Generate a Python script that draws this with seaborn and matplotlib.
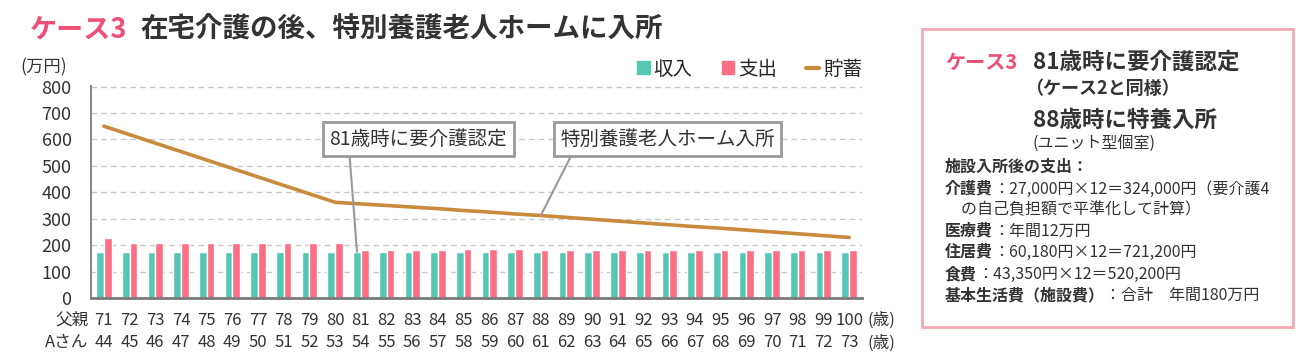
import numpy as np
import pandas as pd
import seaborn as sns
import matplotlib.pyplot as plt
from matplotlib.patches import Rectangle, Patch
from matplotlib.lines import Line2D

# ages of the father and of "Aさん"
father_age = [71, 72, 73, 74, 75, 76, 77, 78, 79, 80, 81, 82, 83, 84, 85,
              86, 87, 88, 89, 90, 91, 92, 93, 94, 95, 96, 97, 98, 99, 100]
a_age = [44, 45, 46, 47, 48, 49, 50, 51, 52, 53, 54, 55, 56, 57, 58,
         59, 60, 61, 62, 63, 64, 65, 66, 67, 68, 69, 70, 71, 72, 73]

# 万円
income = [175, 175, 175, 175, 175, 175, 175, 175, 175, 175, 175, 175, 175, 175, 175,
          175, 175, 175, 175, 175, 175, 175, 175, 175, 175, 175, 175, 175, 175, 175]
expense = [227, 207, 207, 207, 207, 207, 207, 207, 207, 207, 182, 182, 182, 182, 184,
           185, 186, 181, 181, 181, 181, 181, 181, 181, 181, 181, 181, 181, 181, 181]
savings = [650, 618, 586, 554, 522, 490, 458, 426, 394, 362, 356, 350, 344, 338, 331,
           325, 318, 312, 305, 298, 291, 284, 277, 270, 264, 257, 250, 243, 236, 229]

series_names = ["収入", "支出", "貯蓄"]

teal = "#55C8B4"
pink = "#FB6F86"
brown = "#C98A3D"
title_pink = "#EE4F74"
dark = "#333333"
W, H = 1314, 362

sns.set_theme(style="white")
plt.rcParams['font.family'] = ['Noto Sans CJK JP', 'DejaVu Sans']

fig = plt.figure(figsize=(W / 100, H / 100), dpi=100)
ax = fig.add_axes([91 / W, 1 - 298 / H, 771 / W, 212 / H])

labels = [str(a) for a in father_age]
df = pd.DataFrame({"age": labels, "収入": income, "支出": expense})
long = df.melt(id_vars="age", value_vars=["収入", "支出"], var_name="kind", value_name="val")

sns.barplot(data=long, x="age", y="val", hue="kind", order=labels,
            palette=[teal, pink], width=0.6, gap=0, saturation=1,
            legend=False, ax=ax)
sns.lineplot(x=np.arange(len(savings)), y=savings, color=brown, lw=2.6, ax=ax)

ax.set_xlim(-0.5, len(labels) - 0.5)
ax.set_ylim(0, 802)
ax.set_yticks(range(0, 900, 100))
ax.set_xticks(range(len(labels)))
ax.set_xticklabels([f"{f}\n{a}" for f, a in zip(father_age, a_age)],
                   fontsize=12, linespacing=1.42, color=dark)
ax.tick_params(axis="y", length=0, pad=14, labelsize=13, labelcolor=dark)
ax.tick_params(axis="x", length=0, pad=10)
ax.set_xlabel("")
ax.set_ylabel("")
ax.yaxis.grid(True, ls=(0, (4, 3)), color="#c8c8c8", lw=1)
ax.set_axisbelow(True)
for s in ["top", "right"]:
    ax.spines[s].set_visible(False)
ax.spines["left"].set_color("#8a8a8a")
ax.spines["left"].set_linewidth(1.5)
ax.spines["bottom"].set_color("#7a7a7a")
ax.spines["bottom"].set_linewidth(2)

# row labels and units for the two age rows (same offset as the tick labels)
row_y = -14 / 212
ax.text(-0.6, row_y, "父親\nAさん", transform=ax.get_xaxis_transform(), ha="right",
        va="top", fontsize=12, linespacing=1.42, color=dark)
ax.text(len(labels) - 0.3, row_y, "(歳)\n(歳)", transform=ax.get_xaxis_transform(),
        ha="left", va="top", fontsize=12, linespacing=1.42, color=dark)
fig.text(20 / W, 1 - 67 / H, "(万円)", fontsize=12.5, color=dark, va="center")

handles = [Patch(color=teal), Patch(color=pink), Line2D([], [], color=brown, lw=3)]
ax.legend(handles, series_names, ncol=3, loc="lower right", bbox_to_anchor=(1.0, 1.03),
          frameon=False, fontsize=14, handlelength=0.65, handleheight=0.65,
          handletextpad=0.2, columnspacing=1.5, borderaxespad=0, borderpad=0)

# callouts
box = dict(boxstyle="square,pad=0.33", fc="white", ec="#9a9a9a", lw=2)
ax.annotate("81歳時に要介護認定", xy=(10 - 0.15, income[10]), xytext=(12.24, 600),
            ha="center", va="center", fontsize=14, color=dark, bbox=box,
            arrowprops=dict(arrowstyle="-", color="#999999", lw=1.5, relpos=(0.11, 0),
                            shrinkA=0, shrinkB=0))
ax.annotate("特別養護老人ホーム入所", xy=(17, savings[17]), xytext=(21.93, 600),
            ha="center", va="center", fontsize=14, color=dark, bbox=box,
            arrowprops=dict(arrowstyle="-", color="#999999", lw=1.5, relpos=(0.065, 0),
                            shrinkA=0, shrinkB=0))

# title
fig.text(30 / W, 1 - 30 / H, "ケース3", fontsize=19.5, fontweight="bold", color=title_pink, va="center")
fig.text(140 / W, 1 - 30 / H, "在宅介護の後、特別養護老人ホームに入所", fontsize=19.8,
         fontweight="bold", color=dark, va="center")

# right info panel
fig.add_artist(Rectangle((922 / W, 1 - 327 / H), 371 / W, 298 / H, transform=fig.transFigure,
                         fill=False, ec="#F3A9B3", lw=2))
fig.text(945 / W, 1 - 62 / H, "ケース3", fontsize=14.5, fontweight="bold", color=title_pink, va="center")
fig.text(1033 / W, 1 - 62 / H, "81歳時に要介護認定", fontsize=16.2, fontweight="bold", color=dark, va="center")
fig.text(1025 / W, 1 - 88 / H, "（ケース2と同様）", fontsize=13, fontweight="bold", color=dark, va="center")
fig.text(1033 / W, 1 - 120 / H, "88歳時に特養入所", fontsize=16.2, fontweight="bold", color=dark, va="center")
fig.text(1033 / W, 1 - 144 / H, "(ユニット型個室)", fontsize=11.5, color=dark, va="center")

renderer = fig.canvas.get_renderer()


def mixed(x, y, parts, size=11.5):
    for s, w in parts:
        t = fig.text(x, y, s, fontsize=size, fontweight=w, color=dark, va="center")
        x = t.get_window_extent(renderer=renderer).x1 / fig.bbox.width


mixed(945 / W, 1 - 167 / H, [("施設入所後の支出：", "bold")])
mixed(945 / W, 1 - 189 / H, [("介護費", "bold"), ("：27,000円×12＝324,000円（要介護4", "normal")])
mixed(945 / W, 1 - 210 / H, [("　の自己負担額で平準化して計算）", "normal")])
mixed(945 / W, 1 - 231 / H, [("医療費", "bold"), ("：年間12万円", "normal")])
mixed(945 / W, 1 - 252 / H, [("住居費", "bold"), ("：60,180円×12＝721,200円", "normal")])
mixed(945 / W, 1 - 274 / H, [("食費", "bold"), ("：43,350円×12＝520,200円", "normal")])
mixed(945 / W, 1 - 295 / H, [("基本生活費（施設費）", "bold"), ("：合計　年間180万円", "normal")])

fig.savefig("out.png", dpi=100)
